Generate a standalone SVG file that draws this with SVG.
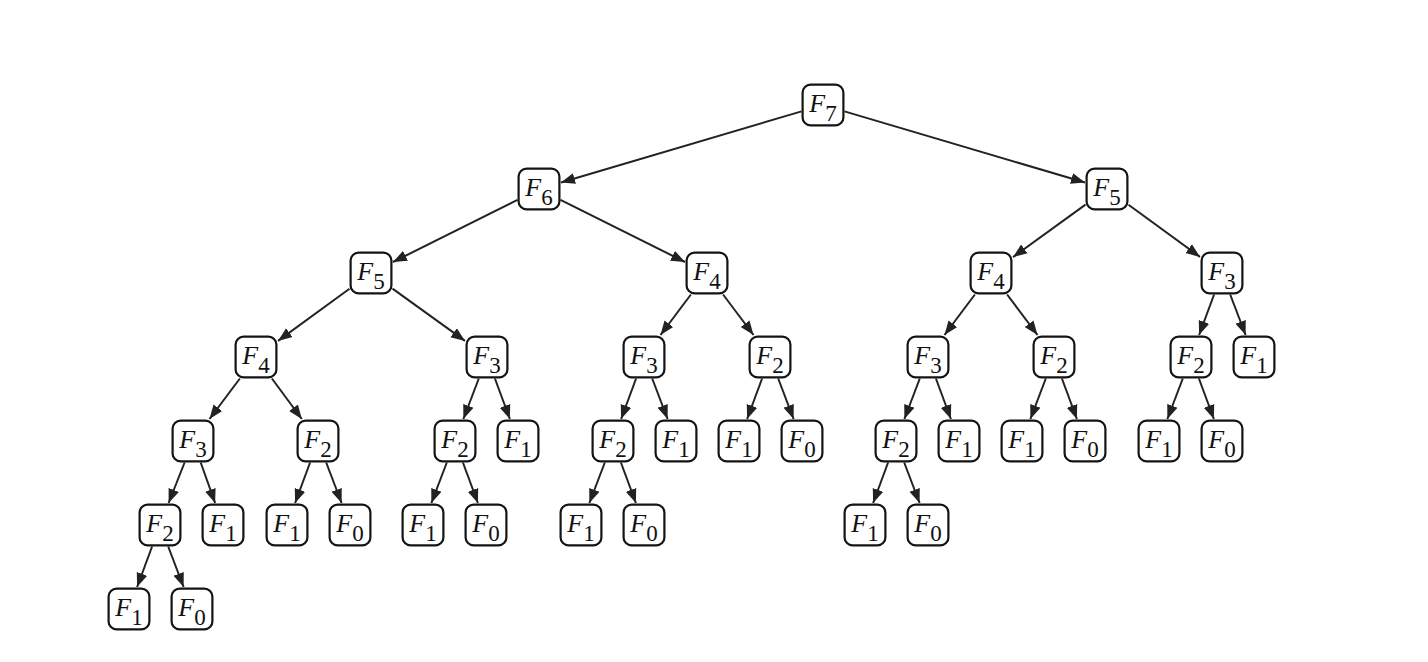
<svg xmlns="http://www.w3.org/2000/svg" width="1428" height="662" viewBox="0 0 1428 662">
<style>
.n text{font-family:"Liberation Serif","Times New Roman",serif;fill:#111;text-anchor:middle}
.f{font-style:italic;font-size:26px}
.s{font-size:23px}
.e line{stroke:#222;stroke-width:2;marker-end:url(#ah)}
</style>
<defs>
<marker id="ah" markerUnits="userSpaceOnUse" markerWidth="15" markerHeight="12" refX="14" refY="5.5" orient="auto" viewBox="0 0 15 11">
<path d="M0,0 L14,5.5 L0,11 z" fill="#222"/>
</marker>
<rect id="b" x="-20.4" y="-20.4" width="40.8" height="40.8" rx="8" fill="#fff" stroke="#141414" stroke-width="2.2"/>
</defs>
<rect width="1428" height="662" fill="#fff"/>
<g id="connectors" class="e">
<line x1="801.5" y1="111.4" x2="561" y2="182.5"/>
<line x1="844.5" y1="111.4" x2="1085" y2="182.5"/>
<line x1="517.5" y1="199.8" x2="393" y2="262"/>
<line x1="560.5" y1="199.8" x2="685" y2="262"/>
<line x1="1085.5" y1="204.6" x2="1013" y2="257.1"/>
<line x1="1128.5" y1="204.7" x2="1200" y2="256.9"/>
<line x1="349.5" y1="288.7" x2="278" y2="340.9"/>
<line x1="392.5" y1="288.6" x2="465" y2="340.9"/>
<line x1="690.9" y1="294.5" x2="660.5" y2="335"/>
<line x1="723.1" y1="294.5" x2="753.5" y2="335"/>
<line x1="974.9" y1="294.5" x2="944.5" y2="335"/>
<line x1="1007.1" y1="294.5" x2="1037.5" y2="335"/>
<line x1="1214.1" y1="294.5" x2="1199.1" y2="335"/>
<line x1="1230.2" y1="294.5" x2="1245.6" y2="335"/>
<line x1="239.9" y1="378.5" x2="209.5" y2="419"/>
<line x1="271.9" y1="378.5" x2="301.8" y2="419"/>
<line x1="478.8" y1="378.5" x2="463.4" y2="419"/>
<line x1="494.9" y1="378.5" x2="509.9" y2="419"/>
<line x1="636.1" y1="378.5" x2="621.1" y2="419"/>
<line x1="652.2" y1="378.5" x2="667.6" y2="419"/>
<line x1="762.1" y1="378.5" x2="747.1" y2="419"/>
<line x1="778.2" y1="378.5" x2="793.6" y2="419"/>
<line x1="919.8" y1="378.5" x2="904.4" y2="419"/>
<line x1="935.9" y1="378.5" x2="950.9" y2="419"/>
<line x1="1045.8" y1="378.5" x2="1030.4" y2="419"/>
<line x1="1061.9" y1="378.5" x2="1076.9" y2="419"/>
<line x1="1182.8" y1="378.5" x2="1167.4" y2="419"/>
<line x1="1198.9" y1="378.5" x2="1213.9" y2="419"/>
<line x1="184.6" y1="462.5" x2="168.6" y2="503"/>
<line x1="200.7" y1="462.5" x2="215.1" y2="503"/>
<line x1="310.1" y1="462.5" x2="295.1" y2="503"/>
<line x1="326.2" y1="462.5" x2="341.6" y2="503"/>
<line x1="446.8" y1="462.5" x2="431.4" y2="503"/>
<line x1="462.9" y1="462.5" x2="477.9" y2="503"/>
<line x1="604.8" y1="462.5" x2="589.4" y2="503"/>
<line x1="620.9" y1="462.5" x2="635.9" y2="503"/>
<line x1="888.1" y1="462.5" x2="873.1" y2="503"/>
<line x1="904.2" y1="462.5" x2="919.6" y2="503"/>
<line x1="152.1" y1="546.5" x2="137.1" y2="587"/>
<line x1="168.2" y1="546.5" x2="183.6" y2="587"/>
</g>
<g id="n0" class="n" transform="translate(823,105)"><use href="#b"/><text y="7"><tspan class="f">F</tspan><tspan class="s" dy="9">7</tspan></text></g>
<g id="n1" class="n" transform="translate(539,189)"><use href="#b"/><text y="7"><tspan class="f">F</tspan><tspan class="s" dy="9">6</tspan></text></g>
<g id="n2" class="n" transform="translate(1107,189)"><use href="#b"/><text y="7"><tspan class="f">F</tspan><tspan class="s" dy="9">5</tspan></text></g>
<g id="n3" class="n" transform="translate(371,273)"><use href="#b"/><text y="7"><tspan class="f">F</tspan><tspan class="s" dy="9">5</tspan></text></g>
<g id="n4" class="n" transform="translate(707,273)"><use href="#b"/><text y="7"><tspan class="f">F</tspan><tspan class="s" dy="9">4</tspan></text></g>
<g id="n5" class="n" transform="translate(991,273)"><use href="#b"/><text y="7"><tspan class="f">F</tspan><tspan class="s" dy="9">4</tspan></text></g>
<g id="n6" class="n" transform="translate(1222,273)"><use href="#b"/><text y="7"><tspan class="f">F</tspan><tspan class="s" dy="9">3</tspan></text></g>
<g id="n7" class="n" transform="translate(256,357)"><use href="#b"/><text y="7"><tspan class="f">F</tspan><tspan class="s" dy="9">4</tspan></text></g>
<g id="n8" class="n" transform="translate(487,357)"><use href="#b"/><text y="7"><tspan class="f">F</tspan><tspan class="s" dy="9">3</tspan></text></g>
<g id="n9" class="n" transform="translate(644,357)"><use href="#b"/><text y="7"><tspan class="f">F</tspan><tspan class="s" dy="9">3</tspan></text></g>
<g id="n10" class="n" transform="translate(770,357)"><use href="#b"/><text y="7"><tspan class="f">F</tspan><tspan class="s" dy="9">2</tspan></text></g>
<g id="n11" class="n" transform="translate(928,357)"><use href="#b"/><text y="7"><tspan class="f">F</tspan><tspan class="s" dy="9">3</tspan></text></g>
<g id="n12" class="n" transform="translate(1054,357)"><use href="#b"/><text y="7"><tspan class="f">F</tspan><tspan class="s" dy="9">2</tspan></text></g>
<g id="n13" class="n" transform="translate(1191,357)"><use href="#b"/><text y="7"><tspan class="f">F</tspan><tspan class="s" dy="9">2</tspan></text></g>
<g id="n14" class="n" transform="translate(1254,357)"><use href="#b"/><text y="7"><tspan class="f">F</tspan><tspan class="s" dy="9">1</tspan></text></g>
<g id="n15" class="n" transform="translate(193,441)"><use href="#b"/><text y="7"><tspan class="f">F</tspan><tspan class="s" dy="9">3</tspan></text></g>
<g id="n16" class="n" transform="translate(318,441)"><use href="#b"/><text y="7"><tspan class="f">F</tspan><tspan class="s" dy="9">2</tspan></text></g>
<g id="n17" class="n" transform="translate(455,441)"><use href="#b"/><text y="7"><tspan class="f">F</tspan><tspan class="s" dy="9">2</tspan></text></g>
<g id="n18" class="n" transform="translate(518,441)"><use href="#b"/><text y="7"><tspan class="f">F</tspan><tspan class="s" dy="9">1</tspan></text></g>
<g id="n19" class="n" transform="translate(613,441)"><use href="#b"/><text y="7"><tspan class="f">F</tspan><tspan class="s" dy="9">2</tspan></text></g>
<g id="n20" class="n" transform="translate(676,441)"><use href="#b"/><text y="7"><tspan class="f">F</tspan><tspan class="s" dy="9">1</tspan></text></g>
<g id="n21" class="n" transform="translate(739,441)"><use href="#b"/><text y="7"><tspan class="f">F</tspan><tspan class="s" dy="9">1</tspan></text></g>
<g id="n22" class="n" transform="translate(802,441)"><use href="#b"/><text y="7"><tspan class="f">F</tspan><tspan class="s" dy="9">0</tspan></text></g>
<g id="n23" class="n" transform="translate(896,441)"><use href="#b"/><text y="7"><tspan class="f">F</tspan><tspan class="s" dy="9">2</tspan></text></g>
<g id="n24" class="n" transform="translate(959,441)"><use href="#b"/><text y="7"><tspan class="f">F</tspan><tspan class="s" dy="9">1</tspan></text></g>
<g id="n25" class="n" transform="translate(1022,441)"><use href="#b"/><text y="7"><tspan class="f">F</tspan><tspan class="s" dy="9">1</tspan></text></g>
<g id="n26" class="n" transform="translate(1085,441)"><use href="#b"/><text y="7"><tspan class="f">F</tspan><tspan class="s" dy="9">0</tspan></text></g>
<g id="n27" class="n" transform="translate(1159,441)"><use href="#b"/><text y="7"><tspan class="f">F</tspan><tspan class="s" dy="9">1</tspan></text></g>
<g id="n28" class="n" transform="translate(1222,441)"><use href="#b"/><text y="7"><tspan class="f">F</tspan><tspan class="s" dy="9">0</tspan></text></g>
<g id="n29" class="n" transform="translate(160,525)"><use href="#b"/><text y="7"><tspan class="f">F</tspan><tspan class="s" dy="9">2</tspan></text></g>
<g id="n30" class="n" transform="translate(223,525)"><use href="#b"/><text y="7"><tspan class="f">F</tspan><tspan class="s" dy="9">1</tspan></text></g>
<g id="n31" class="n" transform="translate(287,525)"><use href="#b"/><text y="7"><tspan class="f">F</tspan><tspan class="s" dy="9">1</tspan></text></g>
<g id="n32" class="n" transform="translate(350,525)"><use href="#b"/><text y="7"><tspan class="f">F</tspan><tspan class="s" dy="9">0</tspan></text></g>
<g id="n33" class="n" transform="translate(423,525)"><use href="#b"/><text y="7"><tspan class="f">F</tspan><tspan class="s" dy="9">1</tspan></text></g>
<g id="n34" class="n" transform="translate(486,525)"><use href="#b"/><text y="7"><tspan class="f">F</tspan><tspan class="s" dy="9">0</tspan></text></g>
<g id="n35" class="n" transform="translate(581,525)"><use href="#b"/><text y="7"><tspan class="f">F</tspan><tspan class="s" dy="9">1</tspan></text></g>
<g id="n36" class="n" transform="translate(644,525)"><use href="#b"/><text y="7"><tspan class="f">F</tspan><tspan class="s" dy="9">0</tspan></text></g>
<g id="n37" class="n" transform="translate(865,525)"><use href="#b"/><text y="7"><tspan class="f">F</tspan><tspan class="s" dy="9">1</tspan></text></g>
<g id="n38" class="n" transform="translate(928,525)"><use href="#b"/><text y="7"><tspan class="f">F</tspan><tspan class="s" dy="9">0</tspan></text></g>
<g id="n39" class="n" transform="translate(129,609)"><use href="#b"/><text y="7"><tspan class="f">F</tspan><tspan class="s" dy="9">1</tspan></text></g>
<g id="n40" class="n" transform="translate(192,609)"><use href="#b"/><text y="7"><tspan class="f">F</tspan><tspan class="s" dy="9">0</tspan></text></g>
</svg>
